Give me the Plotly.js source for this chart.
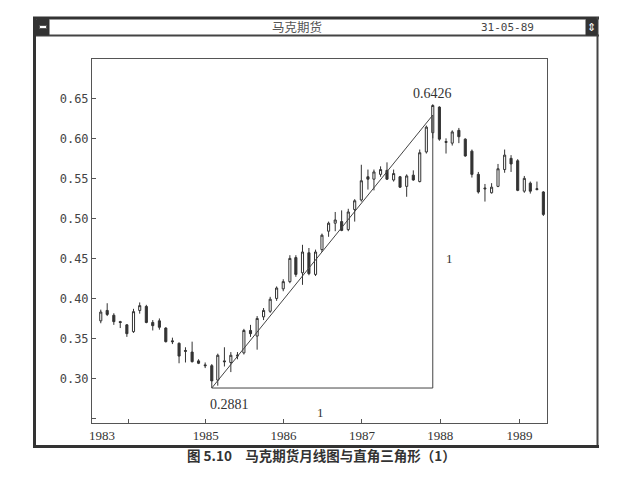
<!DOCTYPE html>
<html>
<head>
<meta charset="utf-8">
<script src="https://cdn.plot.ly/plotly-3.0.1.min.js"></script>
<style>
html,body{margin:0;padding:0;background:#fff;}
#chart{width:625px;height:488px;}
</style>
</head>
<body>
<div id="chart"></div>
<script>
// ---- data (monthly Deutsche Mark futures) ----
const months = ['1983-09','1983-10','1983-11','1983-12',
  '1984-01','1984-02','1984-03','1984-04','1984-05','1984-06','1984-07','1984-08','1984-09','1984-10','1984-11','1984-12',
  '1985-01','1985-02','1985-03','1985-04','1985-05','1985-06','1985-07','1985-08','1985-09','1985-10','1985-11','1985-12',
  '1986-01','1986-02','1986-03','1986-04','1986-05','1986-06','1986-07','1986-08','1986-09','1986-10','1986-11','1986-12',
  '1987-01','1987-02','1987-03','1987-04','1987-05','1987-06','1987-07','1987-08','1987-09','1987-10','1987-11','1987-12',
  '1988-01','1988-02','1988-03','1988-04','1988-05','1988-06','1988-07','1988-08','1988-09','1988-10','1988-11','1988-12',
  '1989-01','1989-02','1989-03','1989-04','1989-05'];
const openVals = [0.372,0.385,0.379,0.371,
  0.367,0.3585,0.385,0.390,0.370,0.372,0.363,0.347,0.344,0.335,0.333,0.322,
  0.317,0.316,0.298,0.322,0.320,0.328,0.332,0.360,0.353,0.377,0.384,0.400,
  0.412,0.421,0.451,0.432,0.457,0.430,0.461,0.484,0.494,0.496,0.486,0.511,
  0.523,0.552,0.549,0.555,0.560,0.548,0.552,0.540,0.554,0.546,0.583,0.607,
  0.639,0.596,0.594,0.610,0.599,0.584,0.555,0.538,0.532,0.540,0.561,0.575,
  0.572,0.534,0.544,0.536,0.533];
const highVals = [0.386,0.394,0.3815,0.372,
  0.368,0.387,0.395,0.392,0.373,0.375,0.364,0.351,0.345,0.339,0.346,0.324,
  0.320,0.318,0.331,0.339,0.333,0.333,0.362,0.367,0.378,0.388,0.402,0.415,
  0.424,0.454,0.454,0.467,0.463,0.461,0.481,0.496,0.508,0.510,0.512,0.524,
  0.567,0.561,0.561,0.565,0.570,0.561,0.553,0.555,0.560,0.586,0.616,0.6426,
  0.640,0.600,0.610,0.613,0.600,0.586,0.558,0.543,0.544,0.568,0.586,0.579,
  0.574,0.553,0.546,0.546,0.534];
const lowVals = [0.369,0.378,0.367,0.363,
  0.352,0.357,0.381,0.369,0.360,0.361,0.345,0.343,0.319,0.320,0.320,0.318,
  0.313,0.2881,0.291,0.315,0.308,0.324,0.330,0.352,0.336,0.373,0.382,0.397,
  0.409,0.419,0.427,0.417,0.429,0.428,0.458,0.477,0.484,0.484,0.484,0.496,
  0.521,0.536,0.535,0.552,0.548,0.546,0.538,0.527,0.547,0.545,0.581,0.600,
  0.597,0.581,0.591,0.594,0.577,0.551,0.531,0.521,0.531,0.539,0.557,0.558,
  0.534,0.532,0.531,0.535,0.503];
const closeVals = [0.383,0.380,0.371,0.370,
  0.356,0.3835,0.391,0.370,0.366,0.364,0.346,0.346,0.328,0.334,0.321,0.319,
  0.316,0.297,0.329,0.321,0.329,0.329,0.360,0.356,0.375,0.385,0.399,0.413,
  0.421,0.450,0.430,0.458,0.431,0.458,0.479,0.494,0.498,0.485,0.508,0.522,
  0.547,0.549,0.558,0.561,0.549,0.556,0.539,0.553,0.548,0.582,0.614,0.641,
  0.599,0.595,0.608,0.602,0.578,0.555,0.533,0.537,0.539,0.562,0.579,0.568,
  0.535,0.550,0.534,0.537,0.505];

// right-angle triangle drawn on the chart (low point -> near high, vertical and horizontal legs)
const triangleX = ['1985-02','1987-12','1987-12','1985-02'];
const triangleY = [0.2881, 0.629, 0.2881, 0.2881];

// tick labels
const yTickVals = [0.25,0.30,0.35,0.40,0.45,0.50,0.55,0.60,0.65];
const yTickText = ['','0.30','0.35','0.40','0.45','0.50','0.55','0.60','0.65'];
const xTickVals = ['1984-01-07','1985-01-04','1986-01-02','1987-01-04','1988-01-05','1989-01-10'];
const xTickText = ['','1985','1986','1987','1988','1989'];

// ---- layout geometry helpers (pixel -> paper) ----
const M = {l:92, r:78, t:59, b:65};
const PW = 625 - M.l - M.r, PH = 488 - M.t - M.b;
const px = v => (v - M.l) / PW;
const py = v => (488 - M.b - v) / PH;

const ink = '#333';
const candles = {
  type: 'candlestick',
  x: months, open: openVals, high: highVals, low: lowVals, close: closeVals,
  increasing: {line: {color: ink, width: 1}, fillcolor: '#ffffff'},
  decreasing: {line: {color: ink, width: 1}, fillcolor: ink},
  whiskerwidth: 0,
  hoverinfo: 'skip'
};
const tri = {
  type: 'scatter', mode: 'lines', x: triangleX, y: triangleY,
  line: {color: '#444', width: 1}, hoverinfo: 'skip'
};

const serif = 'Liberation Serif, DejaVu Serif, serif';
const mono = 'DejaVu Sans Mono, Liberation Mono, monospace';
const cjk = 'Noto Sans CJK SC, sans-serif';

function hline(x0, x1, y, w, c){ return {type:'line', xref:'paper', yref:'paper', x0:px(x0), x1:px(x1), y0:py(y), y1:py(y), line:{color:c, width:w}}; }
function vline(x, y0, y1, w, c){ return {type:'line', xref:'paper', yref:'paper', x0:px(x), x1:px(x), y0:py(y0), y1:py(y1), line:{color:c, width:w}}; }
function rect(x0, y0, x1, y1, fill, lc){ return {type:'rect', xref:'paper', yref:'paper', x0:px(x0), x1:px(x1), y0:py(y1), y1:py(y0), fillcolor:fill, line:{color:lc||fill, width:1}}; }

const layout = {
  width: 625, height: 488,
  margin: M,
  paper_bgcolor: '#ffffff', plot_bgcolor: '#ffffff',
  showlegend: false,
  boxgap: 0.5,
  xaxis: {
    type: 'date', range: ['1983-07-22','1989-05-18'],
    tickvals: xTickVals, ticktext: xTickText,
    ticks: 'inside', ticklen: 4, tickcolor: '#555',
    showline: true, linecolor: '#555', linewidth: 1, mirror: true,
    showgrid: false, zeroline: false,
    tickfont: {family: serif, size: 13, color: ink},
    rangeslider: {visible: false}, fixedrange: true
  },
  yaxis: {
    range: [0.2444, 0.6991],
    tickvals: yTickVals, ticktext: yTickText,
    ticks: 'inside', ticklen: 4, tickcolor: '#555',
    showline: true, linecolor: '#555', linewidth: 1, mirror: true,
    showgrid: false, zeroline: false,
    tickfont: {family: mono, size: 12, color: '#444'},
    fixedrange: true
  },
  shapes: [
    hline(33, 599, 18, 3, ink),
    hline(33, 599, 35.5, 2, '#444'),
    vline(34.5, 17, 448, 3, ink),
    vline(597.5, 17, 448, 2, '#444'),
    hline(33, 599, 446.5, 3, ink),
    rect(36.5, 19.5, 49, 35, ink),
    rect(39.5, 25.5, 46.5, 28.5, '#ffffff', '#555'),
    rect(586, 19.5, 597, 35, ink)
  ],
  annotations: [
    {xref:'paper', yref:'paper', x:px(297), y:py(26.5), text:'马克期货', showarrow:false,
     font:{family:cjk, size:12.5, color:'#555'}, xanchor:'center', yanchor:'middle'},
    {xref:'paper', yref:'paper', x:px(507), y:py(27), text:'31-05-89', showarrow:false,
     font:{family:mono, size:11, color:'#444'}, xanchor:'center', yanchor:'middle'},
    {xref:'paper', yref:'paper', x:px(591.5), y:py(27.5), text:'⇕', showarrow:false,
     font:{family:'DejaVu Sans', size:11, color:'#ffffff'}, xanchor:'center', yanchor:'middle'},
    {xref:'x', yref:'paper', x:'1983-09-08', y:py(435), text:'1983', showarrow:false,
     font:{family:serif, size:13, color:ink}, xanchor:'center', yanchor:'middle'},
    {xref:'x', yref:'y', x:'1987-12-01', y:0.6554, text:'0.6426', showarrow:false,
     font:{family:serif, size:14, color:ink}, xanchor:'center', yanchor:'middle'},
    {xref:'x', yref:'y', x:'1985-04-25', y:0.2669, text:'0.2881', showarrow:false,
     font:{family:serif, size:14, color:ink}, xanchor:'center', yanchor:'middle'},
    {xref:'x', yref:'y', x:'1988-02-15', y:0.4494, text:'1', showarrow:false,
     font:{family:serif, size:13, color:ink}, xanchor:'center', yanchor:'middle'},
    {xref:'x', yref:'y', x:'1986-06-25', y:0.258, text:'1', showarrow:false,
     font:{family:serif, size:13, color:ink}, xanchor:'center', yanchor:'middle'},
    {xref:'paper', yref:'paper', x:px(321), y:py(455.5), text:'<b>图 5.10　马克期货月线图与直角三角形（1）</b>', showarrow:false,
     font:{family:cjk, size:13.5, color:ink}, xanchor:'center', yanchor:'middle'}
  ]
};

Plotly.newPlot('chart', [candles, tri], layout, {staticPlot: true, displayModeBar: false});
</script>
</body>
</html>
